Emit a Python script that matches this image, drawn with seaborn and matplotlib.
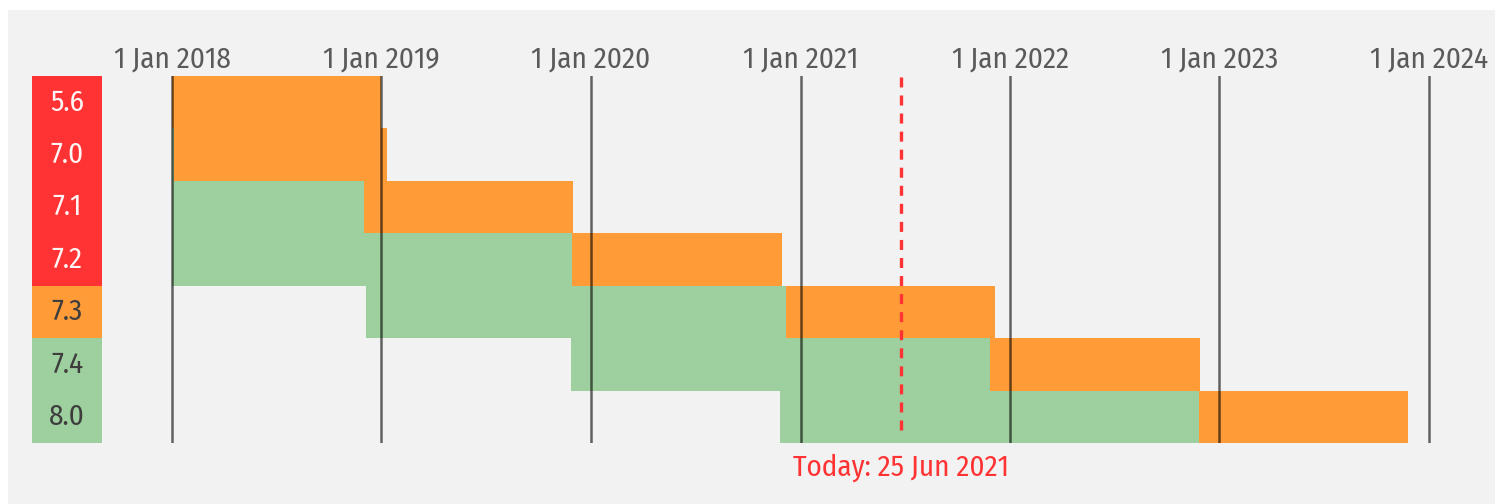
import matplotlib
matplotlib.use("Agg")
import matplotlib.pyplot as plt
import matplotlib.dates as mdates
import seaborn as sns
import pandas as pd
from matplotlib.patches import Rectangle

# ---- data ----
versions = ["5.6", "7.0", "7.1", "7.2", "7.3", "7.4", "8.0"]
release_dates = ["2014-08-28", "2015-12-03", "2016-12-01", "2017-11-30",
                 "2018-12-06", "2019-11-28", "2020-11-26"]
active_end = ["2017-01-19", "2018-01-04", "2018-12-01", "2019-11-30",
              "2020-12-06", "2021-11-28", "2022-11-26"]
security_end = ["2018-12-31", "2019-01-10", "2019-12-01", "2020-11-30",
                "2021-12-06", "2022-11-28", "2023-11-26"]
year_ticks = ["2018-01-01", "2019-01-01", "2020-01-01", "2021-01-01",
              "2022-01-01", "2023-01-01", "2024-01-01"]
today_str = "2021-06-25"
today_label = "Today: 25 Jun 2021"

# ---- style ----
sns.set_theme(style="white")
plt.rcParams["font.family"] = ["Fira Sans Condensed", "Roboto Condensed", "DejaVu Sans"]
plt.rcParams["font.weight"] = 400
plt.rcParams["lines.scale_dashes"] = False

C_EOL, C_SEC, C_ACT = "#ff3333", "#ff9c38", "#9ecf9e"
BG = "#f2f2f2"
FS = 21

today = pd.Timestamp(today_str)
rel = pd.to_datetime(release_dates)
act = pd.to_datetime(active_end)
sec = pd.to_datetime(security_end)
ticks = pd.to_datetime(year_ticks)
min_date = ticks[0]

status = []
for a, s in zip(act, sec):
    if s < today:
        status.append("eol")
    elif a < today:
        status.append("security")
    else:
        status.append("active")
palette = {"eol": C_EOL, "security": C_SEC, "active": C_ACT}
df = pd.DataFrame({"version": versions, "status": status, "one": [1] * len(versions)})

W, H = 1508, 504
fig = plt.figure(figsize=(W / 100, H / 100), dpi=100, facecolor="white")
fig.patches.append(Rectangle((8 / W, 0), (1495 - 8) / W, (H - 10) / H,
                             transform=fig.transFigure, facecolor=BG,
                             edgecolor="none", zorder=-10))

top_px, bot_px = 76, 443
span = bot_px - top_px
def axrect(x0, x1):
    return [x0 / W, (H - bot_px) / H, (x1 - x0) / W, span / H]

# label column
lab = fig.add_axes(axrect(32, 102))
sns.barplot(data=df, x="one", y="version", hue="status", palette=palette,
            dodge=False, width=1, saturation=1, legend=False, linewidth=0, ax=lab)
lab.set_xlim(0, 1)
lab.set_ylim(len(versions) - 0.5, -0.5)
for i, (v, st) in enumerate(zip(versions, status)):
    lab.text(0.5, i, v, ha="center", va="center", fontsize=FS,
             color="#fff5f5" if st == "eol" else "#3d3d3d")
lab.axis("off")

# timeline
ax = fig.add_axes(axrect(102, 1495))
ax.set_facecolor("none")
px_per_day = 209.5 / 365.25
d0 = mdates.date2num(min_date)
ax.set_xlim(d0 - (172 - 102) / px_per_day, d0 + (1495 - 172) / px_per_day)
ax.set_ylim(len(versions) - 0.5, -0.5)

for i in range(len(versions)):
    g0 = max(rel[i], min_date)
    if act[i] > min_date:
        ax.barh(i, mdates.date2num(act[i]) - mdates.date2num(g0),
                left=mdates.date2num(g0), height=1, color=C_ACT, linewidth=0, zorder=2)
    o0 = max(act[i], min_date)
    if sec[i] > min_date:
        ax.barh(i, mdates.date2num(sec[i]) - mdates.date2num(o0),
                left=mdates.date2num(o0), height=1, color=C_SEC, linewidth=0, zorder=2)

xtr = ax.get_xaxis_transform()
for t in ticks:
    x = mdates.date2num(t)
    ax.axvline(x, color="black", alpha=0.6, lw=1.8, zorder=3)
    ax.text(x, 1 + 8 / span, f"{t.day} {t.strftime('%b')} {t.year}",
            transform=xtr, ha="center", va="baseline", fontsize=FS, color="#5a5a5a")

xt = mdates.date2num(today)
ax.axvline(xt, ymin=13 / span, ymax=1, color=C_EOL, lw=2.4,
           dashes=(7.2, 5.8), zorder=4)
ax.text(xt, -33 / span, today_label, transform=xtr, ha="center",
        va="baseline", fontsize=FS, color=C_EOL)

ax.axis("off")
fig.savefig("out.png", dpi=100, facecolor="white")
